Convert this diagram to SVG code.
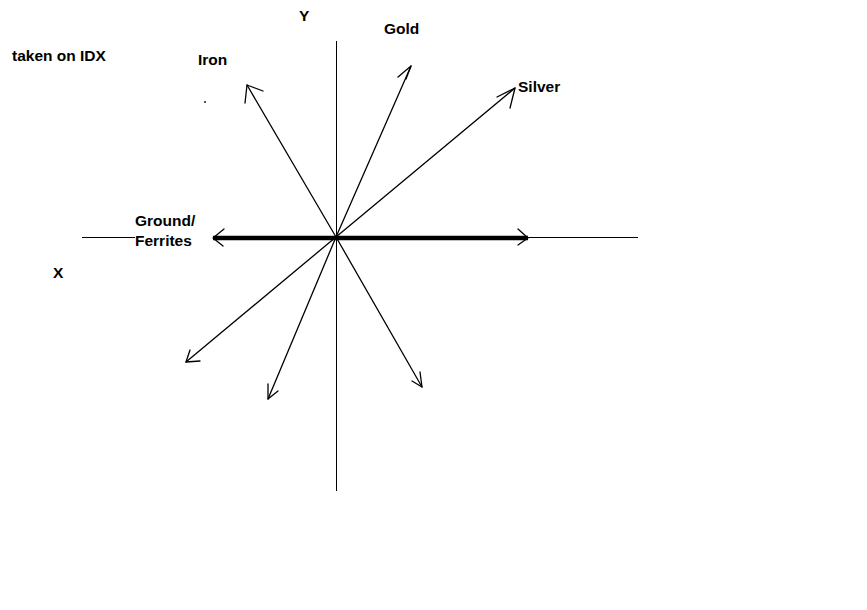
<svg xmlns="http://www.w3.org/2000/svg" width="867" height="610" viewBox="0 0 867 610">
<style>
text{font-family:"Liberation Sans",Arial,sans-serif;font-size:15.5px;font-weight:bold;fill:#000}
.ax{stroke:#000;stroke-width:1;fill:none}
.v{stroke:#000;stroke-width:1.3;fill:none;stroke-linecap:round;stroke-linejoin:round}
.thick{stroke:#000;stroke-width:4.5;fill:none}
</style>
<rect width="867" height="610" fill="#fff"/>
<g id="axes">
<line class="ax" x1="336.5" y1="41" x2="336.5" y2="491"/>
<line class="ax" x1="82" y1="237.5" x2="135" y2="237.5"/>
<line class="ax" x1="336" y1="237.5" x2="638" y2="237.5"/>
</g>
<g id="connectors">
<line class="thick" x1="213" y1="238" x2="528" y2="238"/>
<polyline class="v" points="224,229 213,238 223,246"/>
<polyline class="v" points="518,229 528,238 518,245"/>
<line class="v" x1="336" y1="237" x2="247" y2="85"/>
<polyline class="v" points="263,91 247,85 245,103"/>
<line class="v" x1="336" y1="237" x2="411" y2="66"/>
<polyline class="v" points="398,77 411,66 406,79"/>
<line class="v" x1="336" y1="237" x2="515" y2="88"/>
<polyline class="v" points="497,97 515,88 510,108"/>
<line class="v" x1="336" y1="237" x2="186" y2="362"/>
<polyline class="v" points="190,350 186,362 200,361"/>
<line class="v" x1="336" y1="237" x2="268" y2="399"/>
<polyline class="v" points="268,384 268,399 278,391"/>
<line class="v" x1="336" y1="237" x2="422" y2="387"/>
<polyline class="v" points="420,372 422,387 412,381"/>
<circle cx="205" cy="102" r="0.9" fill="#000"/>
</g>
<g id="labels">
<text x="299" y="21">Y</text>
<text x="384" y="34">Gold</text>
<text x="198" y="65">Iron</text>
<text x="518" y="92">Silver</text>
<text x="12" y="61">taken on IDX</text>
<text x="135" y="226">Ground/</text>
<text x="135" y="246">Ferrites</text>
<text x="53" y="278">X</text>
</g>
</svg>
